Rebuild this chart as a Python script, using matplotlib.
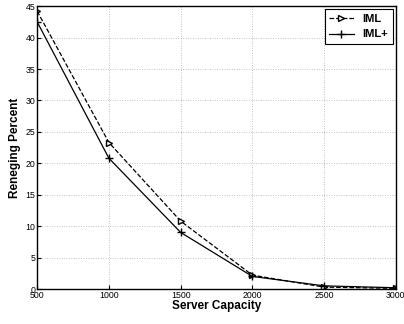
import matplotlib
matplotlib.use("Agg")
import matplotlib.pyplot as plt

plt.rcParams["font.family"] = ["Liberation Sans", "DejaVu Sans"]

capacity = [500, 1000, 1500, 2000, 2500, 3000]
iml = [44.2, 23.3, 10.8, 2.2, 0.3, 0.1]
iml_plus = [42.5, 20.8, 9.0, 2.0, 0.5, 0.2]

fig = plt.figure(figsize=(4.04, 3.24), dpi=100)
ax = fig.add_axes([0.092, 0.108, 0.888, 0.873])

ax.plot(capacity, iml, "k--", marker=">", markerfacecolor="white",
        markersize=4.5, linewidth=0.9, label="IML")
ax.plot(capacity, iml_plus, "k-", marker="+", markersize=5.5,
        linewidth=0.9, label="IML+")

ax.set_xlim(500, 3000)
ax.set_ylim(0, 45)
ax.set_xticks(capacity)
ax.set_yticks(range(0, 46, 5))
ax.tick_params(direction="in", labelsize=6.3, length=3, width=0.8, pad=1.5)
ax.grid(True, linestyle=(0, (1, 2.5)), color="#888888", linewidth=0.5)
for s in ax.spines.values():
    s.set_linewidth(1.0)

ax.set_xlabel("Server Capacity", fontsize=8.5, fontweight="bold", labelpad=0)
ax.set_ylabel("Reneging Percent", fontsize=8.5, fontweight="bold", labelpad=3)

leg = ax.legend(loc="upper right", fancybox=False, edgecolor="black",
                framealpha=1, borderaxespad=0.3, handlelength=2.2,
                prop={"weight": "bold", "size": 8})
leg.get_frame().set_linewidth(0.8)

fig.savefig("out.png", dpi=100)
